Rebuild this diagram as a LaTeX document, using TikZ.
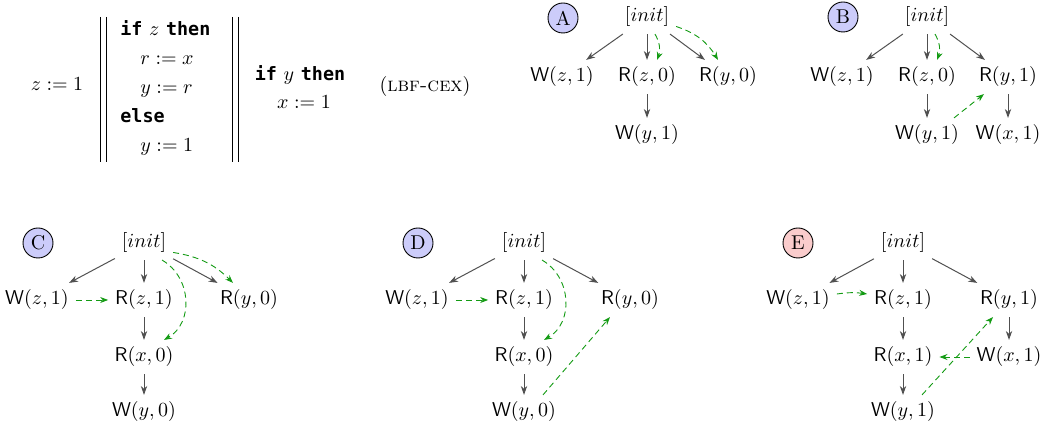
\documentclass[tikz,border=0pt]{standalone}
\usepackage{fontspec}
\setmonofont{DejaVu Sans Mono}[Scale=0.92]
\usetikzlibrary{arrows.meta}
\definecolor{edgegray}{RGB}{80,80,80}
\definecolor{rfgreen}{RGB}{20,155,20}
\definecolor{lblue}{RGB}{204,204,250}
\definecolor{lred}{RGB}{250,204,204}
\newcommand{\kw}[1]{\texttt{\textbf{#1}}}
\begin{document}
\begin{tikzpicture}[x=0.5pt,y=-0.5pt,
  po/.style={draw=edgegray,line width=0.5pt,-{Stealth[length=4.5pt,width=3.2pt]}},
  rf/.style={draw=rfgreen,line width=0.45pt,dash pattern=on 3pt off 2pt,-{Stealth[length=4pt,width=3pt]}},
  tag/.style={circle,draw,line width=0.45pt,fill=lblue,minimum size=15pt,inner sep=0pt},
  code/.style={anchor=base west,inner sep=0pt},
  bar/.style={line width=0.4pt}
]
\useasboundingbox (0,0) rectangle (1053,431);

% ---- program ----
\node[anchor=base,inner sep=0pt] (p0) at (57,91) {$z := 1$};
\draw[bar] (100,17) -- (100,162);
\draw[bar] (106,17) -- (106,162);
\node[code] (p1) at (120,36) {\kw{if} $z$ \kw{then}};
\node[code] (p2) at (140,65) {$r := x$};
\node[code] (p3) at (140,94) {$y := r$};
\node[code] (p4) at (120,123) {\kw{else}};
\node[code] (p5) at (140,152) {$y := 1$};
\draw[bar] (232,17) -- (232,162);
\draw[bar] (238,17) -- (238,162);
\node[anchor=base,inner sep=0pt] (p6) at (300,81) {\kw{if} $y$ \kw{then}};
\node[anchor=base,inner sep=0pt] (p7) at (304,109) {$x := 1$};
\node[anchor=base,inner sep=0pt] (p8) at (425,92) {(\textsc{lbf-cex})};

% ---- A ----
\node[tag] (tA) at (563,18) {A};
\node (iA) at (647,17) {$[init]$};
\node (A1) at (562,77) {$\mathsf{W}(z,1)$};
\node (A2) at (647,77) {$\mathsf{R}(z,0)$};
\node (A3) at (728,77) {$\mathsf{R}(y,0)$};
\node (A4) at (647,135) {$\mathsf{W}(y,1)$};
\draw[po] (iA) -- (A1);
\draw[po] (iA) -- (A2);
\draw[po] (iA) -- (A3);
\draw[po] (A2) -- (A4);
\draw[rf] ([xshift=4pt]iA.south) to[bend left=25] ([xshift=5pt]A2.north);
\draw[rf] (iA.-18) to[bend left=20] ([xshift=-5pt]A3.north);

% ---- B ----
\node[tag] (tB) at (843,17) {B};
\node (iB) at (927,17) {$[init]$};
\node (B1) at (842,77) {$\mathsf{W}(z,1)$};
\node (B2) at (927,77) {$\mathsf{R}(z,0)$};
\node (B3) at (1008,77) {$\mathsf{R}(y,1)$};
\node (B4) at (927,135) {$\mathsf{W}(y,1)$};
\node (B5) at (1008,135) {$\mathsf{W}(x,1)$};
\draw[po] (iB) -- (B1);
\draw[po] (iB) -- (B2);
\draw[po] (iB) -- (B3);
\draw[po] (B2) -- (B4);
\draw[po] (B3) -- (B5);
\draw[rf] ([xshift=4pt]iB.south) to[bend left=25] ([xshift=5pt]B2.north);
\draw[rf] ([xshift=-6pt]B4.north east) -- ([xshift=6pt]B3.south west);

% ---- C ----
\node[tag] (tC) at (38,243) {C};
\node (iC) at (144,243) {$[init]$};
\node (C1) at (37,300) {$\mathsf{W}(z,1)$};
\node (C2) at (144,300) {$\mathsf{R}(z,1)$};
\node (C3) at (249,300) {$\mathsf{R}(y,0)$};
\node (C4) at (144,357) {$\mathsf{R}(x,0)$};
\node (C5) at (144,412) {$\mathsf{W}(y,0)$};
\draw[po] (iC) -- (C1);
\draw[po] (iC) -- (C2);
\draw[po] (iC) -- (C3);
\draw[po] (C2) -- (C4);
\draw[po] (C4) -- (C5);
\draw[rf] (C1) -- (C2);
\draw[rf] (iC.-18) to[bend left=18] ([xshift=-8pt]C3.north);
\draw[rf] ([xshift=9pt]iC.south) to[out=-30,in=30,looseness=1.1] ([xshift=10pt]C4.north);

% ---- D ----
\node[tag] (tD) at (418,243) {D};
\node (iD) at (524,243) {$[init]$};
\node (D1) at (417,300) {$\mathsf{W}(z,1)$};
\node (D2) at (524,300) {$\mathsf{R}(z,1)$};
\node (D3) at (630,300) {$\mathsf{R}(y,0)$};
\node (D4) at (524,357) {$\mathsf{R}(x,0)$};
\node (D5) at (524,412) {$\mathsf{W}(y,0)$};
\draw[po] (iD) -- (D1);
\draw[po] (iD) -- (D2);
\draw[po] (iD) -- (D3);
\draw[po] (D2) -- (D4);
\draw[po] (D4) -- (D5);
\draw[rf] (D1) -- (D2);
\draw[rf] ([xshift=9pt]iD.south) to[out=-30,in=30,looseness=1.1] ([xshift=10pt]D4.north);
\draw[rf] ([xshift=-10pt]D5.north east) -- ([xshift=8pt]D3.south west);

% ---- E ----
\node[tag,fill=lred] (tE) at (798,243) {E};
\node (iE) at (903,243) {$[init]$};
\node (E1) at (798,300) {$\mathsf{W}(z,1)$};
\node (E2) at (903,300) {$\mathsf{R}(z,1)$};
\node (E3) at (1009,300) {$\mathsf{R}(y,1)$};
\node (E4) at (903,357) {$\mathsf{R}(x,1)$};
\node (E5) at (1009,357) {$\mathsf{W}(x,1)$};
\node (E6) at (903,412) {$\mathsf{W}(y,1)$};
\draw[po] (iE) -- (E1);
\draw[po] (iE) -- (E2);
\draw[po] (iE) -- (E3);
\draw[po] (E2) -- (E4);
\draw[po] (E4) -- (E6);
\draw[po] (E3) -- (E5);
\draw[rf] ([yshift=3pt]E1.east) to[bend left=8] ([yshift=3pt]E2.west);
\draw[rf] (E5) -- (E4);
\draw[rf] ([xshift=-10pt]E6.north east) -- ([xshift=10pt]E3.south west);
\end{tikzpicture}
\end{document}
